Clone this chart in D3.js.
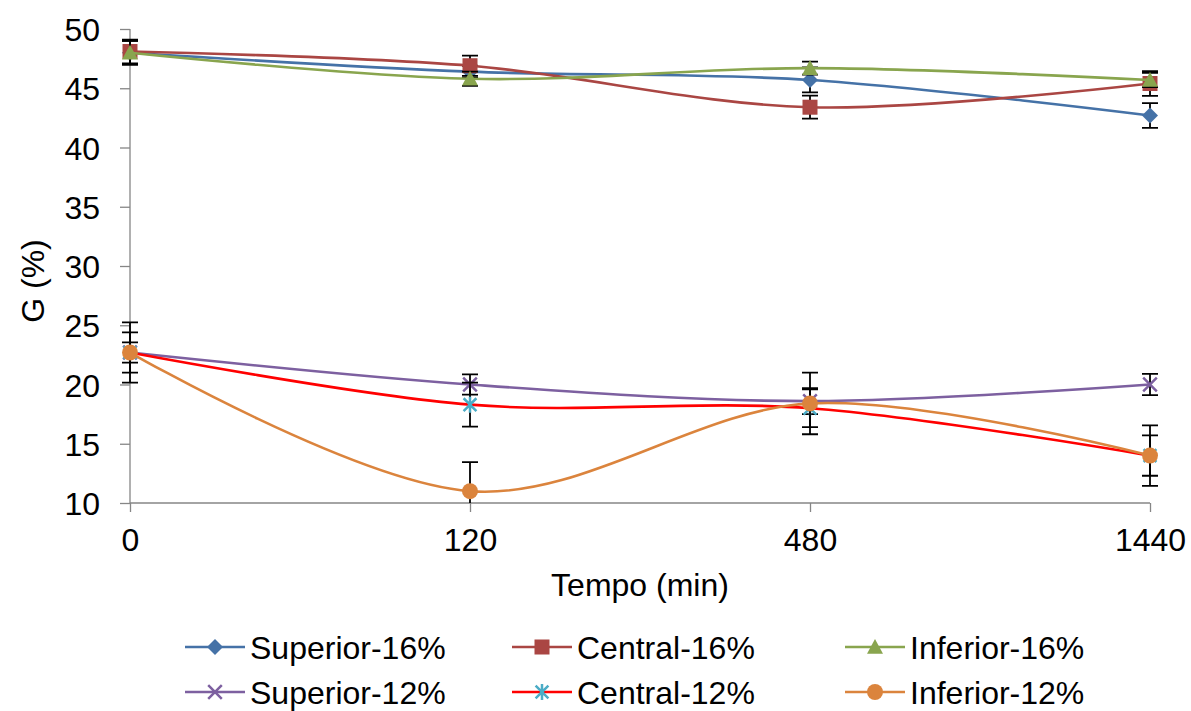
<!DOCTYPE html>
<html><head><meta charset="utf-8">
<script src="https://cdn.jsdelivr.net/npm/d3@7"></script>
<style>body{margin:0;background:#fff;} text{font-family:"Liberation Sans",Arial,sans-serif;fill:#000;}</style>
</head><body>
<svg id="c" width="1191" height="711"></svg>
<script>
const categories = ["0","120","480","1440"];
const yTicks = [10,15,20,25,30,35,40,45,50];
const seriesNames = ["Superior-16%","Central-16%","Inferior-16%","Superior-12%","Central-12%","Inferior-12%"];
const superior16 = [48.0, 46.4, 45.7, 42.7];
const central16  = [48.1, 46.9, 43.4, 45.4];
const inferior16 = [48.0, 45.8, 46.7, 45.7];
const superior12 = [22.7, 20.0, 18.6, 20.0];
const central12  = [22.7, 18.3, 18.0, 14.0];
const inferior12 = [22.7, 11.0, 18.4, 14.0];
const superior16Err = [1.0, 0.5, 1.05, 1.05];
const central16Err  = [1.0, 0.85, 0.97, 1.05];
const inferior16Err = [1.0, 0.6, 0.55, 0.6];
const superior12Err = [0.85, 0.85, 1.1, 0.9];
const central12Err  = [1.7, 1.85, 1.6, 1.7];
const inferior12Err = [2.55, 2.45, 2.6, 2.55];

const colors = ["#4572A7","#AA4643","#89A54E","#7D60A0","#FF0000","#DB843D"];
const markerColors = ["#4572A7","#AA4643","#89A54E","#7D60A0","#4BACC6","#DB843D"];
const markerTypes = ["diamond","square","triangle","x","star","circle"];
const values = [superior16,central16,inferior16,superior12,central12,inferior12];
const errs = [superior16Err,central16Err,inferior16Err,superior12Err,central12Err,inferior12Err];

const svg = d3.select("#c");
const x = d3.scalePoint().domain(categories).range([130,1150]).padding(0);
const y = d3.scaleLinear().domain([10,50]).range([503,29]);
const FS = 32;
const axisColor = "#868686";

// Y axis
const yAxis = svg.append("g").attr("transform","translate(130,0)")
  .call(d3.axisLeft(y).tickValues(yTicks).tickSize(10).tickPadding(20).tickFormat(d3.format("d")));
yAxis.select(".domain").attr("stroke",axisColor).attr("stroke-width",1.3).attr("d","M0,29V503");
yAxis.selectAll(".tick line").attr("stroke",axisColor).attr("stroke-width",1.3);
yAxis.selectAll(".tick text").style("font-size",FS+"px").attr("fill","#000").attr("dy","0.36em");

// X axis
const xAxis = svg.append("g").attr("transform","translate(0,503)")
  .call(d3.axisBottom(x).tickSize(9).tickPadding(16));
xAxis.select(".domain").attr("stroke",axisColor).attr("stroke-width",1.3).attr("d","M130,0H1150");
xAxis.selectAll(".tick line").attr("stroke",axisColor).attr("stroke-width",1.3);
xAxis.selectAll(".tick text").style("font-size",FS+"px").attr("fill","#000").attr("dy","0.71em");

// Titles
svg.append("text").attr("x",640).attr("y",596).attr("text-anchor","middle").style("font-size",FS+"px").text("Tempo (min)");
svg.append("text").attr("transform","translate(44,281) rotate(-90)").attr("text-anchor","middle").style("font-size",FS+"px").text("G (%)");

// clip
svg.append("defs").append("clipPath").attr("id","plot").append("rect").attr("x",100).attr("y",0).attr("width",1091).attr("height",503);

const plot = svg.append("g").attr("clip-path","url(#plot)");
const line = d3.line().x((d,i)=>x(categories[i])).y(d=>y(d)).curve(d3.curveCatmullRom.alpha(0));

function drawMarker(g, type, cx, cy, color, s) {
  const h = s/2;
  if (type==="diamond") g.append("path").attr("d",`M${cx},${cy-h}L${cx+h},${cy}L${cx},${cy+h}L${cx-h},${cy}Z`).attr("fill",color);
  else if (type==="square") g.append("rect").attr("x",cx-h+0.5).attr("y",cy-h+0.5).attr("width",s-1).attr("height",s-1).attr("fill",color);
  else if (type==="triangle") g.append("path").attr("d",`M${cx},${cy-h}L${cx+h},${cy+h*0.85}L${cx-h},${cy+h*0.85}Z`).attr("fill",color);
  else if (type==="circle") g.append("circle").attr("cx",cx).attr("cy",cy).attr("r",h).attr("fill",color);
  else if (type==="x") { const k=h*0.85; g.append("path").attr("d",`M${cx-k},${cy-k}L${cx+k},${cy+k}M${cx-k},${cy+k}L${cx+k},${cy-k}`).attr("stroke",color).attr("stroke-width",2.5).attr("fill","none"); }
  else if (type==="star") { const k=h*0.8; g.append("path").attr("d",`M${cx-k},${cy-k}L${cx+k},${cy+k}M${cx-k},${cy+k}L${cx+k},${cy-k}M${cx},${cy-h}L${cx},${cy+h}`).attr("stroke",color).attr("stroke-width",2.5).attr("fill","none"); }
}

values.forEach((vals, si) => {
  const g = plot.append("g");
  vals.forEach((v,i) => {
    const cx = x(categories[i]), e = errs[si][i];
    const y1 = y(v+e), y2 = y(v-e);
    g.append("path").attr("d",`M${cx},${y1}V${y2}M${cx-8},${y1}H${cx+8}M${cx-8},${y2}H${cx+8}`)
      .attr("stroke","#000").attr("stroke-width",1.8).attr("fill","none");
  });
  g.append("path").datum(vals).attr("d",line).attr("fill","none").attr("stroke",colors[si]).attr("stroke-width",2.6);
  vals.forEach((v,i) => drawMarker(g, markerTypes[si], x(categories[i]), y(v), markerColors[si], 16));
});

// Legend
const legCols = [185, 512, 845];
const legRows = [647, 692];
seriesNames.forEach((name, si) => {
  const col = si % 3, row = Math.floor(si / 3);
  const lx = legCols[col], ly = legRows[row];
  const g = svg.append("g");
  g.append("line").attr("x1",lx).attr("x2",lx+60).attr("y1",ly).attr("y2",ly).attr("stroke",colors[si]).attr("stroke-width",2.6);
  drawMarker(g, markerTypes[si], lx+30, ly, markerColors[si], 16);
  g.append("text").attr("x",lx+65).attr("y",ly).attr("dy","0.36em").style("font-size",FS+"px").text(name);
});
</script>
</body></html>
